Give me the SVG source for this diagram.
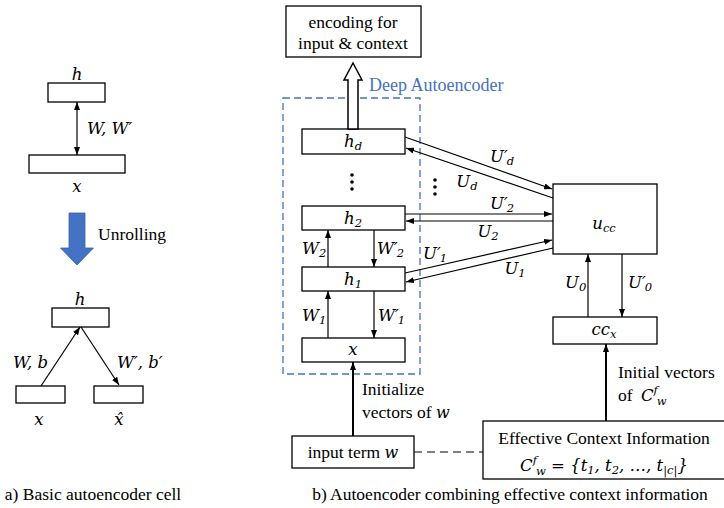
<svg xmlns="http://www.w3.org/2000/svg" width="724" height="508" viewBox="0 0 724 508">
<defs>
<marker id="ar" viewBox="0 0 8 6" refX="8" refY="3" markerWidth="8" markerHeight="6" markerUnits="userSpaceOnUse" orient="auto-start-reverse"><path d="M0,0 L8,3 L0,6 z" fill="#000"/></marker>
</defs>
<style>
.bx{fill:#fff;stroke:#000;stroke-width:1.3}
.ln{stroke:#000;stroke-width:1.2;fill:none}
.ar{marker-end:url(#ar)}
.thick{stroke-width:2}
.t{font-family:'Liberation Serif','Times New Roman',serif;font-size:17.5px;fill:#000}
.m{font-family:'DejaVu Serif',serif;font-style:italic;font-size:16.5px;fill:#000}
.s{font-size:11.5px}
.c{text-anchor:middle}
</style>
<rect width="724" height="508" fill="#fff"/>

<g id="left-cell">
<text class="m c" x="77" y="80">h</text>
<rect class="bx" x="48" y="83" width="57" height="19"/>
<rect class="bx" x="29" y="155" width="96" height="18"/>
<text class="m c" x="77" y="192">x</text>
<text class="m" x="87" y="134">W, W′</text>
</g>
<g id="unrolling">
<polygon points="69,213 85,213 85,248 93.5,248 77,265 60.5,248 69,248" fill="#4472C4" stroke="#3a62a8" stroke-width="0.8"/>
<text class="t" x="98" y="240">Unrolling</text>
</g>
<g id="left-unrolled">
<text class="m c" x="80" y="305">h</text>
<rect class="bx" x="52" y="308" width="57" height="19"/>
<rect class="bx" x="16" y="386" width="49" height="17"/>
<rect class="bx" x="94" y="386" width="49" height="17"/>
<text class="m c" x="39" y="425">x</text>
<text class="m c" x="119" y="425">x̂</text>
<text class="m" x="13" y="368">W, b</text>
<text class="m" x="117" y="368">W′, b′</text>
</g>
<text class="t c" x="93" y="500">a) Basic autoencoder cell</text>

<g id="encoding">
<rect class="bx" x="286" y="6" width="135" height="51"/>
<text class="t c" x="353" y="28">encoding for</text>
<text class="t c" x="353" y="49">input &amp; context</text>
</g>
<g id="deep-autoencoder">
<rect x="283" y="98" width="137" height="276" fill="none" stroke="#4472C4" stroke-width="1.3" stroke-dasharray="7,4"/>
<text class="t" x="369" y="91" style="fill:#4472C4;font-size:18px">Deep Autoencoder</text>
</g>
<g id="hd"><rect class="bx" x="302" y="129" width="103" height="25"/><text class="m c" x="353" y="147">h<tspan class="s" dy="3">d</tspan></text></g>
<g id="dots">
<circle cx="352" cy="175" r="1.8"/><circle cx="352" cy="182" r="1.8"/><circle cx="352" cy="189" r="1.8"/>
<circle cx="435" cy="180" r="1.8"/><circle cx="435" cy="187" r="1.8"/><circle cx="435" cy="194" r="1.8"/>
</g>
<g id="h2"><rect class="bx" x="302" y="206" width="103" height="24"/><text class="m c" x="353" y="224">h<tspan class="s" dy="3">2</tspan></text></g>
<g id="h1"><rect class="bx" x="302" y="267" width="103" height="24"/><text class="m c" x="353" y="285">h<tspan class="s" dy="3">1</tspan></text></g>
<g id="x"><rect class="bx" x="302" y="338" width="103" height="24"/><text class="m c" x="353" y="355">x</text></g>
<g id="input"><rect class="bx" x="292" y="436" width="122" height="32"/><text class="t c" x="353" y="458">input term <tspan class="m" style="font-size:16px">w</tspan></text></g>
<g id="ucc"><rect class="bx" x="553" y="184" width="104" height="70"/><text class="m c" x="604" y="229">u<tspan class="s" dy="3">cc</tspan></text></g>
<g id="ccx"><rect class="bx" x="553" y="317" width="104" height="27"/><text class="m c" x="604" y="335">cc<tspan class="s" dy="3">x</tspan></text></g>
<g id="context">
<rect class="bx" x="483" y="421" width="250" height="58"/>
<text class="t c" x="604" y="444">Effective Context Information</text>
<text class="m c" x="604" y="471">C<tspan class="s" dy="-7">f</tspan><tspan class="s" dx="-1" dy="11">w</tspan><tspan dy="-4"> = {t</tspan><tspan class="s" dy="3">1</tspan><tspan dy="-3">, t</tspan><tspan class="s" dy="3">2</tspan><tspan dy="-3">, …, t</tspan><tspan class="s" dy="3">|c|</tspan><tspan dy="-3">}</tspan></text>
</g>
<text class="t c" x="510" y="500">b) Autoencoder combining effective context information</text>

<g id="connectors">
<line class="ln" x1="77" y1="102" x2="77" y2="155" marker-start="url(#ar)" marker-end="url(#ar)"/>
<line class="ln ar" x1="41" y1="386" x2="80" y2="327"/>
<line class="ln ar" x1="81" y1="327" x2="119" y2="385"/>
<polygon points="348,129 348,80 344,80 353,63 362,80 358,80 358,129" fill="#fff" stroke="#000" stroke-width="1.5"/>
<line class="ln ar" x1="328" y1="267" x2="328" y2="230"/>
<line class="ln ar" x1="374" y1="230" x2="374" y2="267"/>
<line class="ln ar" x1="328" y1="338" x2="328" y2="291"/>
<line class="ln ar" x1="374" y1="291" x2="374" y2="338"/>
<line class="ln ar thick" x1="353" y1="436" x2="353" y2="362"/>
<line class="ln" x1="414" y1="452" x2="483" y2="452" stroke-dasharray="8,5"/>
<line class="ln ar thick" x1="606" y1="421" x2="606" y2="344"/>
<line class="ln ar" x1="588" y1="317" x2="588" y2="254"/>
<line class="ln ar" x1="622" y1="254" x2="622" y2="317"/>
<line class="ln ar" x1="405" y1="137" x2="552" y2="189"/>
<line class="ln ar" x1="553" y1="198" x2="406" y2="148"/>
<line class="ln ar" x1="405" y1="214" x2="552" y2="214"/>
<line class="ln ar" x1="553" y1="221" x2="406" y2="221"/>
<line class="ln ar" x1="405" y1="273" x2="552" y2="240"/>
<line class="ln ar" x1="553" y1="248" x2="406" y2="282"/>
</g>
<g id="labels">
<text class="m" x="302" y="254">W<tspan class="s" dy="3">2</tspan></text>
<text class="m" x="377" y="254">W′<tspan class="s" dx="-1" dy="3">2</tspan></text>
<text class="m" x="302" y="321">W<tspan class="s" dy="3">1</tspan></text>
<text class="m" x="378" y="321">W′<tspan class="s" dx="-1" dy="3">1</tspan></text>
<text class="t" x="362" y="395">Initialize</text>
<text class="t" x="362" y="418">vectors of <tspan class="m" style="font-size:16px">w</tspan></text>
<text class="t" x="618" y="378">Initial vectors</text>
<text class="t" x="618" y="401">of <tspan class="m" dx="4">C</tspan><tspan class="m s" dy="-7">f</tspan><tspan class="m s" dx="-1" dy="11">w</tspan></text>
<text class="m" x="565" y="288">U<tspan class="s" dy="3">0</tspan></text>
<text class="m" x="628" y="288">U′<tspan class="s" dx="-1" dy="3">0</tspan></text>
<text class="m c" x="502" y="162">U′<tspan class="s" dx="-1" dy="3">d</tspan></text>
<text class="m c" x="467" y="187">U<tspan class="s" dy="3">d</tspan></text>
<text class="m c" x="502" y="209">U′<tspan class="s" dx="-1" dy="3">2</tspan></text>
<text class="m c" x="488" y="237">U<tspan class="s" dy="3">2</tspan></text>
<text class="m c" x="435" y="259">U′<tspan class="s" dx="-1" dy="3">1</tspan></text>
<text class="m c" x="515" y="274">U<tspan class="s" dy="3">1</tspan></text>
</g>
</svg>
